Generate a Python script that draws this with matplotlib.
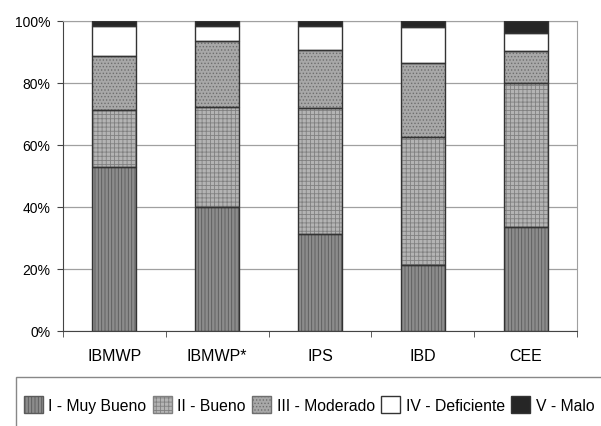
import matplotlib.pyplot as plt
import numpy as np
from matplotlib.patches import Patch, Rectangle

plt.rcParams['font.family'] = ['Liberation Sans', 'DejaVu Sans']
plt.rcParams['hatch.linewidth'] = 0.6

categories = ['IBMWP', 'IBMWP*', 'IPS', 'IBD', 'CEE']
classes = ['I - Muy Bueno', 'II - Bueno', 'III - Moderado', 'IV - Deficiente', 'V - Malo']

# percentages per class
muy_bueno = [52.7, 40.1, 31.1, 21.3, 33.5]
bueno = [18.5, 32.2, 40.8, 41.2, 46.3]
moderado = [17.5, 21.2, 18.5, 24.0, 10.3]
deficiente = [9.7, 4.9, 7.9, 11.6, 5.8]
malo = [1.6, 1.6, 1.7, 1.9, 4.1]

series = [muy_bueno, bueno, moderado, deficiente, malo]
faces = ['#8c8c8c', '#b4b4b4', '#a8a8a8', 'white', '#262626']
hatch_cols = ['#5a5a5a', '#808080', '#6e6e6e', 'white', '#262626']
hatches = ['|||||', '++++', '.....', None, None]

W, H = 601, 427
fig = plt.figure(figsize=(W / 100, H / 100), dpi=100)
ax = fig.add_axes([0.1048, 0.2225, 0.8553, 0.7267])

x = np.arange(len(categories))
width = 0.43
bottom = np.zeros(len(categories))
for vals, fc, hc, h in zip(series, faces, hatch_cols, hatches):
    ax.bar(x, vals, width, bottom=bottom, color=fc, edgecolor=hc, hatch=h,
           linewidth=0, zorder=3)
    ax.bar(x, vals, width, bottom=bottom, fill=False, edgecolor='#333333',
           linewidth=1.0, zorder=4)
    bottom += np.array(vals)

ax.set_xlim(-0.5, len(categories) - 0.5)
ax.set_ylim(0, 100)
ax.set_yticks(np.arange(0, 101, 20))
ax.set_yticklabels(['%d%%' % v for v in range(0, 101, 20)])
ax.yaxis.grid(True, color='#a0a0a0', linewidth=0.9, zorder=0)

ax.set_xticks(x)
ax.set_xticklabels(categories)
ax.set_xticks(np.arange(-0.5, len(categories), 1.0), minor=True)
ax.tick_params(axis='x', which='major', length=0, pad=12, labelsize=11.5)
ax.tick_params(axis='x', which='minor', length=4, color='#444444')
ax.tick_params(axis='y', length=4, pad=5, labelsize=10, color='#444444')

for side in ['top', 'right']:
    ax.spines[side].set_color('#a0a0a0')
for side in ['left', 'bottom']:
    ax.spines[side].set_color('#444444')

# legend frame runs off the right and bottom edges of the image
fig.patches.append(Rectangle((16 / W, -0.05), 1.1, 1.05 - 378 / H,
                             transform=fig.transFigure, fill=False,
                             edgecolor='#888888', linewidth=1.0))

handles = [Patch(facecolor=fc, edgecolor=hc if h else '#333333', hatch=h, label=lab)
           for fc, hc, h, lab in zip(faces, hatch_cols, hatches, classes)]
fig.legend(handles=handles, loc='center left', ncol=5, frameon=False,
           bbox_to_anchor=(24 / W, 1 - 405.7 / H), fontsize=11.35,
           handlelength=1.2, handleheight=1.25, handletextpad=0.33,
           columnspacing=0.43, borderpad=0, borderaxespad=0)

fig.savefig('out.png', dpi=100)
